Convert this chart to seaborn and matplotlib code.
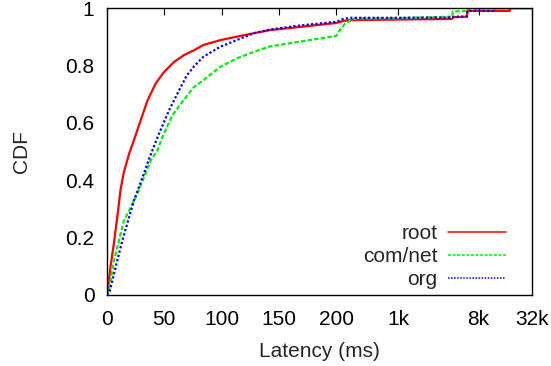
import matplotlib
matplotlib.use('Agg')
import matplotlib.pyplot as plt
import numpy as np
import pandas as pd
import seaborn as sns

# latency (ms) / cdf points
root_lat = [0, 0.9, 3.2, 6.1, 9, 12, 14.8, 19.2, 23.6, 29.4, 35.2, 42.5, 49.8, 58.5, 67.2, 76, 84,
            98.7, 113, 127.8, 142, 170, 200, 240, 290, 1000, 4000, 4200, 5900, 6000, 18000, 18300, 32000]
root_cdf = [0, 0.02, 0.1, 0.18, 0.27, 0.37, 0.428, 0.49, 0.54, 0.608, 0.676, 0.737, 0.777, 0.812, 0.836, 0.853, 0.871,
            0.888, 0.90, 0.912, 0.923, 0.935, 0.948, 0.955, 0.958, 0.96, 0.962, 0.968, 0.97, 0.99, 0.99, 1.0, 1.0]

comnet_lat = [0, 1.7, 6.1, 10.5, 14.8, 20.7, 26.5, 32.3, 38.2, 44, 48.3, 57, 66.7, 76, 84, 98.7,
              113, 127.8, 142, 170, 200, 215, 250, 300, 340, 1000, 4000, 4100, 6000, 6100, 32000]
comnet_cdf = [0, 0.014, 0.119, 0.189, 0.259, 0.305, 0.352, 0.41, 0.469, 0.503, 0.55, 0.626, 0.678, 0.725, 0.748, 0.795,
              0.824, 0.847, 0.866, 0.884, 0.903, 0.92, 0.945, 0.96, 0.964, 0.965, 0.97, 0.988, 0.99, 0.998, 1.0]

org_lat = [0, 2.5, 9, 13.4, 23.6, 32, 36.7, 45.4, 54.1, 62.9, 69.6, 76, 84, 98.7, 113, 127.8, 142, 170, 200,
           240, 290, 1000, 4000, 4200, 5900, 6000, 12000, 12200, 32000]
org_cdf = [0, 0.014, 0.119, 0.189, 0.33, 0.42, 0.474, 0.562, 0.643, 0.713, 0.765, 0.797, 0.83, 0.865, 0.888, 0.912, 0.925, 0.94, 0.952,
           0.962, 0.966, 0.966, 0.967, 0.97, 0.97, 0.99, 0.99, 1.0, 1.0]

tick_vals = [0, 50, 100, 150, 200, 1000, 8000, 32000]
tick_labels = ['0', '50', '100', '150', '200', '1k', '8k', '32k']

df = pd.concat([
    pd.DataFrame({'lat': root_lat, 'cdf': root_cdf, 'series': 'root'}),
    pd.DataFrame({'lat': comnet_lat, 'cdf': comnet_cdf, 'series': 'com/net'}),
    pd.DataFrame({'lat': org_lat, 'cdf': org_cdf, 'series': 'org'}),
])

# linear up to 200 ms, log2 beyond
K = 23.3
def fwd(x):
    x = np.asarray(x, dtype=float)
    return np.where(x <= 200, x, 200 + K * np.log2(np.maximum(x, 200) / 200))
def inv(u):
    u = np.asarray(u, dtype=float)
    return np.where(u <= 200, u, 200 * 2 ** ((np.maximum(u, 200) - 200) / K))

sns.set_style('white')
plt.rcParams['font.family'] = ['Liberation Sans', 'DejaVu Sans']

fig = plt.figure(figsize=(5.51, 3.66), dpi=100)
ax = fig.add_axes([0.194, 0.194, 0.7715, 0.784])

sns.lineplot(data=df, x='lat', y='cdf', hue='series', style='series',
             palette={'root': '#ff0000', 'com/net': '#00ee00', 'org': '#0000ff'},
             dashes={'root': '', 'com/net': (2, 1), 'org': (1, 1)},
             estimator=None, sort=False, linewidth=1.6, ax=ax)

ax.set_xscale('function', functions=(fwd, inv))
ax.set_xlim(0, 32000)
ax.set_ylim(0, 1)
ax.set_xticks(tick_vals)
ax.set_xticklabels(tick_labels)
ax.set_yticks([0, 0.2, 0.4, 0.6, 0.8, 1])
ax.set_yticklabels(['0', '0.2', '0.4', '0.6', '0.8', '1'])
ax.minorticks_off()
ax.tick_params(axis='both', direction='in', length=5, labelsize=15, top=True, colors='black')
ax.tick_params(axis='x', pad=11)
ax.tick_params(axis='y', pad=9)
for s in ax.spines.values():
    s.set_color('black')
    s.set_linewidth(1)

ax.set_xlabel('Latency (ms)', fontsize=15, labelpad=9)
ax.set_ylabel('CDF', fontsize=15, labelpad=25)

leg = ax.legend(loc='lower right', bbox_to_anchor=(0.982, -0.046), frameon=False, fontsize=15,
                markerfirst=False, handlelength=2.75, handletextpad=0.52, labelspacing=0.2)
for h in leg.get_lines():
    h.set_linewidth(1.1)

fig.savefig('out.png', dpi=100)
